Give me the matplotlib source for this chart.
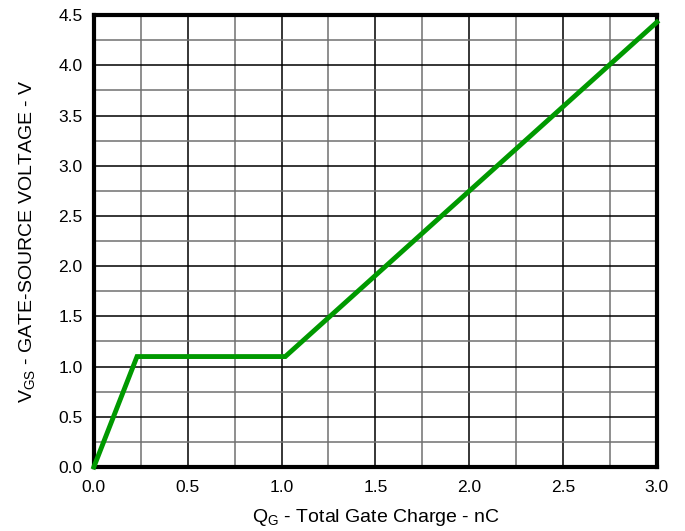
import numpy as np
import matplotlib
matplotlib.use("Agg")
import matplotlib.pyplot as plt
from matplotlib.ticker import MultipleLocator

plt.rcParams['font.family'] = ['Liberation Sans', 'DejaVu Sans']
plt.rcParams['mathtext.fontset'] = 'custom'
plt.rcParams['mathtext.rm'] = 'Liberation Sans'

# gate charge curve (nC, V)
QG = np.array([0.0, 0.23, 1.02, 3.0])
VGS = np.array([0.0, 1.1, 1.1, 4.43])

fig = plt.figure(figsize=(6.85, 5.31), dpi=100)
ax = fig.add_axes([0.137, 0.1205, 0.822, 0.851])

ax.plot(QG, VGS, color='#009900', lw=3.5, solid_joinstyle='miter', zorder=3, clip_on=False)

ax.set_xlim(0, 3.0)
ax.set_ylim(0, 4.5)
ax.xaxis.set_major_locator(MultipleLocator(0.5))
ax.xaxis.set_minor_locator(MultipleLocator(0.25))
ax.yaxis.set_major_locator(MultipleLocator(0.5))
ax.yaxis.set_minor_locator(MultipleLocator(0.25))
ax.xaxis.set_major_formatter(lambda v, p: f'{v:.1f}')
ax.yaxis.set_major_formatter(lambda v, p: f'{v:.1f}')

ax.grid(which='major', color='black', lw=1.1)
ax.grid(which='minor', color='#707070', lw=1.1)
ax.tick_params(which='both', length=0, labelsize=12.5)
ax.tick_params(axis='x', pad=9)
ax.tick_params(axis='y', pad=8)
for s in ax.spines.values():
    s.set_linewidth(3)

ax.set_xlabel(r'Q$_\mathregular{G}$ - Total Gate Charge - nC', fontsize=14, labelpad=9)
ax.set_ylabel(r'V$_\mathregular{GS}$ - GATE-SOURCE VOLTAGE - V', fontsize=14, labelpad=15)

plt.savefig('out.png', dpi=100)
